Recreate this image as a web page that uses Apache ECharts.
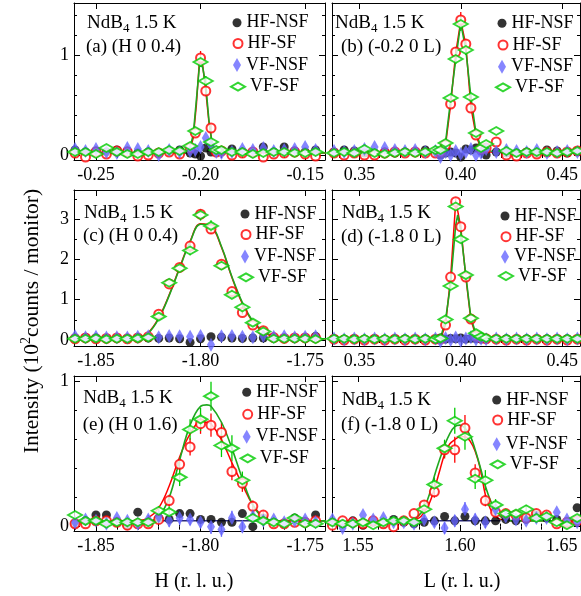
<!DOCTYPE html>
<html><head><meta charset="utf-8">
<script src="https://cdn.jsdelivr.net/npm/echarts@6/dist/echarts.min.js"></script>
<style>html,body{margin:0;padding:0;background:#fff}#c{width:581px;height:596px}</style>
</head><body><div id="c"></div>
<script>
// ---------------- DATA ----------------
// Panel (a) (H 0 0.4)
const aX = [-0.26,-0.255,-0.25,-0.245,-0.24,-0.235,-0.23,-0.225,-0.22,-0.215,-0.21,-0.205,-0.2025,-0.2,-0.1975,-0.195,-0.1925,-0.19,-0.185,-0.18,-0.175,-0.17,-0.165,-0.16,-0.155,-0.15,-0.145,-0.14];
const aHfNsf = [0.05,0.03,0.04,0.03,0.05,0.04,0.02,0.03,0.02,0.04,0.05,0.02,0.01,-0.01,0.07,0.03,0.03,0.04,0.06,0.03,0.02,0.08,0.03,0.08,0.04,0.03,0.05,0.04];
const aHfSf = [0.02,-0.02,0.03,0.01,0.04,0.03,-0.01,0.0,0.02,0.03,0.01,0.07,0.22,0.97,0.64,0.27,0.03,0.04,0.0,0.02,0.03,-0.02,0.01,0.02,0.03,0.01,-0.01,0.02];
const aVfNsf = [0.06,0.04,0.06,0.03,0.02,0.07,0.06,0.04,0.0,0.05,0.03,0.04,0.05,0.08,0.17,0.1,0.03,0.02,0.03,0.06,0.05,0.07,0.04,0.05,0.06,0.08,0.05,0.07];
const aVfSf = [0.03,0.03,0.01,0.07,0.03,0.01,0.01,0.03,0.03,0.05,0.04,0.09,0.24,0.93,0.74,0.13,0.05,0.05,0.03,0.03,0.01,0.02,0.03,0.03,0.02,0.02,0.03,0.02];
const aHfSfErr = [0,0,0,0,0,0,0,0,0,0,0,0,0.03,0.07,0.05,0.03,0,0,0,0,0,0,0,0,0,0,0,0];
const aVfSfErr = [0,0,0,0,0,0,0,0,0,0,0,0,0.03,0.05,0.05,0.02,0,0,0,0,0,0,0,0,0,0,0,0];
const aFitX = [-0.26,-0.2065,-0.205,-0.2035,-0.202,-0.2005,-0.199,-0.1975,-0.196,-0.1945,-0.193,-0.14];
const aFitHf = [0.02,0.02,0.06,0.17,0.5,0.95,0.9,0.64,0.33,0.12,0.03,0.02];
const aFitVf = [0.02,0.02,0.08,0.2,0.55,0.9,0.88,0.7,0.35,0.12,0.04,0.02];

// Panel (b) (-0.2 0 L)
const bX = [0.3375,0.3425,0.3475,0.3525,0.3575,0.3625,0.3675,0.3725,0.3775,0.3825,0.3875,0.39,0.3925,0.395,0.3975,0.4,0.4025,0.405,0.4075,0.41,0.4125,0.4175,0.4225,0.4275,0.4325,0.4375,0.4425,0.4475,0.4525,0.4575];
const bHfNsf = [0.03,0.05,0.04,0.02,0.02,0.03,0.02,0.03,0.03,0.05,0.03,0.0,0.02,0.03,0.02,-0.02,0.06,0.05,0.07,0.04,0.0,0.03,0.02,0.02,0.03,0.02,0.05,0.04,0.02,0.04];
const bHfSf = [0.02,0.0,0.02,0.0,0.0,0.02,0.03,0.02,0.03,0.02,0.02,0.03,0.1,0.51,1.03,1.35,1.11,0.47,0.2,0.06,0.07,0.13,0.0,-0.01,0.02,0.01,0.03,0.02,0.03,0.04];
const bVfNsf = [0.04,0.03,0.04,0.06,0.08,0.07,0.05,0.04,0.05,0.03,0.04,-0.02,0.03,0.0,0.04,0.01,0.03,0.06,0.0,0.02,0.06,0.03,0.05,0.04,0.03,0.05,0.02,0.03,0.04,0.03];
const bVfSf = [0.02,0.03,0.02,0.06,0.02,0.01,0.02,0.03,0.02,0.03,0.05,0.05,0.12,0.57,0.96,1.31,1.05,0.58,0.22,0.07,0.11,0.24,0.04,0.02,0.03,0.03,0.03,0.02,0.03,0.04];
const bHfSfErr = [0,0,0,0,0,0,0,0,0,0,0,0,0,0.03,0.05,0.08,0.05,0.03,0,0,0,0,0,0,0,0,0,0,0,0];
const bVfSfErr = [0,0,0,0,0,0,0,0,0,0,0,0,0,0.03,0.05,0.07,0.05,0.03,0,0,0,0,0,0,0,0,0,0,0,0];
const bFitX = [0.3375,0.39,0.3925,0.395,0.3975,0.4,0.4025,0.405,0.4075,0.41,0.4125,0.4575];
const bFitHf = [0.02,0.03,0.1,0.5,1.02,1.34,1.1,0.48,0.2,0.06,0.03,0.02];
const bFitVf = [0.02,0.04,0.13,0.55,0.95,1.32,1.05,0.58,0.22,0.08,0.04,0.03];

// Panel (c) (H 0 0.4)
const cX = [-1.86,-1.855,-1.85,-1.845,-1.84,-1.835,-1.83,-1.825,-1.82,-1.815,-1.81,-1.805,-1.8,-1.795,-1.79,-1.785,-1.78,-1.775,-1.77,-1.765,-1.76,-1.755,-1.75,-1.745,-1.74];
const cHfNsf = [0.05,0.06,0.05,0.04,0.05,0.04,0.06,0.05,0.04,0.05,0.03,-0.06,0.03,0.08,0.07,0.05,0.04,0.05,0.05,0.06,0.04,0.05,0.06,0.09,0.05];
const cHfSf = [0.03,0.05,0.03,0.04,0.05,0.03,0.05,0.08,0.64,1.39,1.80,2.33,3.12,2.75,1.88,1.20,0.68,0.37,0.23,0.06,0.04,0.05,0.05,0.05,0.04];
const cVfNsf = [0.09,0.07,0.08,0.06,0.07,0.06,0.08,0.09,0.07,0.1,0.09,0.08,0.1,-0.12,0.09,0.1,0.08,0.07,0.1,0.08,0.09,0.07,0.08,0.09,0.07];
const cVfSf = [0.03,0.03,0.04,0.02,0.03,0.03,0.04,0.06,0.58,1.42,1.78,2.22,3.10,2.83,1.84,1.12,0.81,0.43,0.21,0.03,0.03,0.03,0.03,0.02,0.03];
const cHfSfErr = [0,0,0,0,0,0,0,0,0.05,0.07,0.08,0.1,0.12,0.12,0.1,0.07,0.05,0,0,0,0,0,0,0,0];
const cVfSfErr = [0,0,0,0,0,0,0,0,0.05,0.07,0.08,0.12,0.14,0.14,0.1,0.07,0.05,0,0,0,0,0,0,0,0];
const cFitX = [-1.86,-1.835,-1.83,-1.825,-1.82,-1.815,-1.81,-1.805,-1.8,-1.795,-1.79,-1.785,-1.78,-1.775,-1.77,-1.765,-1.76,-1.74];
const cFitHf = [0.03,0.03,0.05,0.18,0.55,1.12,1.8,2.45,2.88,2.82,2.3,1.55,0.9,0.45,0.2,0.08,0.04,0.03];
const cFitVf = [0.03,0.03,0.05,0.17,0.53,1.1,1.78,2.43,2.87,2.83,2.32,1.57,0.93,0.47,0.22,0.09,0.04,0.03];

// Panel (d) (-1.8 0 L)
const dX = [0.3375,0.3425,0.3475,0.3525,0.3575,0.3625,0.3675,0.3725,0.3775,0.3825,0.3875,0.39,0.3925,0.395,0.3975,0.4,0.4025,0.405,0.4075,0.41,0.4125,0.4175,0.4225,0.4275,0.4325,0.4375,0.4425,0.4475,0.4525,0.4575];
const dHfNsf = [0.03,0.02,0.03,0.02,0.03,0.02,0.03,0.03,0.02,0.03,0.02,0.05,0.02,0.04,0.03,0.05,0.02,0.04,0.03,0.02,0.03,0.02,0.03,0.02,0.03,0.02,0.03,0.02,0.03,0.02];
const dHfSf = [0.02,0.0,0.02,0.0,0.02,0.0,0.02,0.0,0.02,0.0,0.02,0.02,0.37,1.56,3.43,2.81,1.56,0.52,0.1,0.05,0.03,0.02,0.0,0.02,0.0,0.02,0.0,0.02,0.0,0.02];
const dVfNsf = [0.04,0.02,0.04,0.02,0.04,0.02,0.04,0.02,0.04,0.02,0.04,-0.03,0.05,0.0,0.06,-0.02,0.04,0.07,0.01,0.03,0.02,0.04,0.02,0.04,0.02,0.04,0.02,0.04,0.02,0.04];
const dVfSf = [0.03,0.03,0.02,0.03,0.02,0.03,0.02,0.03,0.02,0.03,0.02,0.04,0.51,1.34,3.31,2.5,1.61,0.54,0.17,0.08,0.05,0.03,0.03,0.03,0.03,0.03,0.03,0.03,0.03,0.03];
const dHfSfErr = [0,0,0,0,0,0,0,0,0,0,0,0,0,0.05,0.08,0.07,0.05,0,0,0,0,0,0,0,0,0,0,0,0,0];
const dVfSfErr = [0,0,0,0,0,0,0,0,0,0,0,0,0,0.05,0.08,0.07,0.05,0,0,0,0,0,0,0,0,0,0,0,0,0];
const dFitX = [0.3375,0.39,0.3925,0.395,0.3975,0.3985,0.4,0.4025,0.405,0.4075,0.41,0.4575];
const dFitHf = [0.02,0.02,0.38,1.55,3.42,3.2,2.8,1.55,0.5,0.1,0.03,0.02];
const dFitVf = [0.03,0.04,0.5,1.4,2.85,3.1,2.7,1.6,0.55,0.15,0.05,0.03];

// Panel (e) (H 0 1.6)
const eX = [-1.86,-1.855,-1.85,-1.845,-1.84,-1.835,-1.83,-1.825,-1.82,-1.815,-1.81,-1.805,-1.8,-1.795,-1.79,-1.785,-1.78,-1.775,-1.77,-1.765,-1.76,-1.755,-1.75,-1.745,-1.74];
const eHfNsf = [0.02,0.04,0.08,0.08,0.03,0.01,0.10,0.03,0.06,0.05,0.09,0.09,0.05,0.05,0.03,0.03,0.09,0.0,0.06,0.03,0.02,0.06,0.03,0.08,0.05];
const eHfSf = [0.02,0.02,0.04,0.04,0.03,0.01,0.02,0.02,0.05,0.18,0.43,0.55,0.71,0.70,0.65,0.38,0.30,0.14,0.08,0.02,0.02,0.03,0.03,0.04,0.03];
const eVfNsf = [0.03,0.05,0.04,0.02,0.06,0.04,0.02,0.05,0.07,0.04,0.06,0.05,0.03,0.0,-0.02,0.06,0.0,0.07,0.04,0.05,0.03,0.04,0.05,0.03,0.04];
const eVfSf = [0.08,0.04,0.04,0.02,0.03,0.03,0.03,0.03,0.11,0.10,0.34,0.67,0.74,0.90,0.56,0.54,0.32,0.06,0.04,0.03,0.02,0.06,0.02,0.02,0.04];
const eHfSfErr = [0,0,0,0,0,0,0,0,0.02,0.04,0.05,0.06,0.07,0.08,0.07,0.06,0.06,0.04,0.03,0,0,0,0,0,0];
const eVfSfErr = [0,0,0,0,0,0,0,0,0.03,0.04,0.06,0.07,0.08,0.1,0.08,0.09,0.06,0.04,0,0,0,0,0,0,0];
const eVfNsfErr = [0,0,0,0,0,0,0,0.03,0.04,0.04,0.05,0.04,0.04,0.05,0.05,0.05,0.04,0.04,0.03,0,0,0,0,0,0];
const eFitX = [-1.86,-1.83,-1.825,-1.82,-1.815,-1.81,-1.805,-1.8,-1.797,-1.795,-1.79,-1.785,-1.78,-1.775,-1.77,-1.765,-1.74];
const eFitHf = [0.04,0.04,0.06,0.13,0.28,0.48,0.64,0.72,0.72,0.71,0.6,0.44,0.29,0.15,0.07,0.04,0.04];
const eFitVf = [0.04,0.04,0.04,0.07,0.2,0.46,0.7,0.83,0.84,0.83,0.72,0.54,0.33,0.15,0.06,0.04,0.04];
const eNsfFitX = [-1.86,-1.74];
const eNsfFit = [0.04,0.04];

// Panel (f) (-1.8 0 L)
const fX = [1.5375,1.5425,1.5475,1.5525,1.5575,1.5625,1.5675,1.5725,1.5775,1.5825,1.5875,1.5925,1.5975,1.6025,1.6075,1.6125,1.6175,1.6225,1.6275,1.6325,1.6375,1.6425,1.6475,1.6525,1.6575];
const fHfNsf = [0.03,0.02,0.04,0.01,0.03,0.02,0.05,0.03,0.02,0.03,0.04,0.07,0.04,0.07,0.04,0.04,0.04,0.05,0.04,0.05,0.08,0.06,0.05,0.02,0.13];
const fHfSf = [0.01,0.04,0.03,0.02,0.04,0.02,0.0,0.04,0.09,0.15,0.24,0.53,0.53,0.68,0.37,0.18,0.1,0.09,0.08,0.06,0.09,0.08,0.02,0.03,0.04];
const fVfNsf = [0.05,-0.01,0.02,0.08,0.05,0.06,0.03,0.03,0.02,0.05,0.03,-0.01,0.04,0.12,0.05,0.03,0.12,0.07,0.05,0.04,0.06,0.06,0.1,0.05,0.03];
const fVfSf = [0.03,0.02,0.02,0.03,0.01,0.03,0.04,0.04,0.03,0.12,0.29,0.54,0.73,0.62,0.33,0.32,0.15,0.09,0.09,0.12,0.06,0.07,0.03,0.01,0.06];
const fHfSfErr = [0,0,0,0,0,0,0,0,0,0.03,0.04,0.06,0.09,0.09,0.06,0.04,0,0,0,0,0,0,0,0,0];
const fVfSfErr = [0,0,0,0,0,0,0,0,0,0.03,0.05,0.06,0.09,0.09,0.07,0.07,0.04,0.03,0,0.03,0,0,0,0,0];
const fVfNsfErr = [0,0,0,0,0,0,0,0,0.03,0.03,0.03,0.04,0.04,0.05,0.04,0.04,0.04,0.03,0,0,0,0,0,0,0];
const fFitX = [1.5375,1.575,1.58,1.5825,1.585,1.5875,1.59,1.5925,1.595,1.5975,1.6,1.6025,1.605,1.6075,1.61,1.6125,1.615,1.6175,1.62,1.625,1.6575];
const fFitHf = [0.04,0.04,0.06,0.1,0.16,0.26,0.38,0.5,0.57,0.6,0.62,0.62,0.59,0.52,0.4,0.22,0.12,0.07,0.05,0.04,0.04];
const fFitVf = [0.04,0.04,0.08,0.13,0.22,0.35,0.46,0.56,0.64,0.69,0.70,0.68,0.63,0.53,0.41,0.28,0.18,0.11,0.07,0.04,0.04];
const fNsfFitX = [1.575,1.62];
const fNsfFit = [0.04,0.04];

// Tick labels
const hTicksA = [-0.25,-0.20,-0.15];
const lTicksBD = [0.35,0.40,0.45];
const hTicksCE = [-1.85,-1.80,-1.75];
const lTicksF = [1.55,1.60,1.65];
const yTicksRow1 = [0,1];
const yMinorRow1 = [0.2,0.4,0.6,0.8,1.2,1.4];
const yTicksRow2 = [0,1,2,3];
const yMinorRow2 = [0.5,1.5,2.5,3.5];
const yTicksRow3 = [0,1];
const yMinorRow3 = [0.2,0.4,0.6,0.8];

const panelLabels = ['(a) (H 0 0.4)','(b) (-0.2 0 L)','(c) (H 0 0.4)','(d) (-1.8 0 L)','(e) (H 0 1.6)','(f) (-1.8 0 L)'];
const seriesNames = ['HF-NSF','HF-SF','VF-NSF','VF-SF'];

// ---------------- STYLE / LAYOUT ----------------
const FONT = "'Liberation Serif','Times New Roman',serif";
const C_BLACK = '#000000', C_RED = '#ff0000', C_BLUE = '#6666ff', C_GREEN = '#00cc00', C_GREEN_LINE = '#1fa81f', C_NAVY = '#2a2a7a';
const LEG_FS = 18;

const GRIDS = [
  {left:74, top:3, width:251, height:157},
  {left:332, top:3, width:248, height:157},
  {left:74, top:190, width:251, height:156},
  {left:332, top:190, width:248, height:156},
  {left:74, top:376, width:251, height:155},
  {left:332, top:376, width:248, height:155}
];
const XR = [[-0.2605,-0.1405],[0.3365,0.4588],[-1.8605,-1.7405],[0.3365,0.4588],[-1.8605,-1.7405],[1.5373,1.6589]];
const YR = [[-0.05,1.52],[-0.05,1.52],[-0.149,3.72],[-0.149,3.72],[-0.03,1.039],[-0.03,1.039]];

function zip(xs, ys){ return xs.map((x,i)=>[x, ys[i]]); }
function minorTicks(lo, hi, step, majors){
  const out = [];
  const start = Math.ceil(lo/step - 1e-9);
  for (let k = start; k*step <= hi + 1e-9; k++){
    const v = +(k*step).toFixed(6);
    if (!majors.some(m => Math.abs(m - v) < 1e-7)) out.push(v);
  }
  return out;
}

const panels = [
  {x:aX, hn:aHfNsf, hs:aHfSf, vn:aVfNsf, vs:aVfSf, hsE:aHfSfErr, vsE:aVfSfErr, fx:aFitX, fh:aFitHf, fv:aFitVf, smooth:false, xt:hTicksA, yt:yTicksRow1, ym:yMinorRow1, yl:true},
  {x:bX, hn:bHfNsf, hs:bHfSf, vn:bVfNsf, vs:bVfSf, hsE:bHfSfErr, vsE:bVfSfErr, fx:bFitX, fh:bFitHf, fv:bFitVf, smooth:false, xt:lTicksBD, yt:yTicksRow1, ym:yMinorRow1, yl:false},
  {x:cX, hn:cHfNsf, hs:cHfSf, vn:cVfNsf, vs:cVfSf, hsE:cHfSfErr, vsE:cVfSfErr, fx:cFitX, fh:cFitHf, fv:cFitVf, smooth:0.4, xt:hTicksCE, yt:yTicksRow2, ym:yMinorRow2, yl:true},
  {x:dX, hn:dHfNsf, hs:dHfSf, vn:dVfNsf, vs:dVfSf, hsE:dHfSfErr, vsE:dVfSfErr, fx:dFitX, fh:dFitHf, fv:dFitVf, smooth:false, xt:lTicksBD, yt:yTicksRow2, ym:yMinorRow2, yl:false},
  {x:eX, hn:eHfNsf, hs:eHfSf, vn:eVfNsf, vs:eVfSf, hsE:eHfSfErr, vsE:eVfSfErr, vnE:eVfNsfErr, fx:eFitX, fh:eFitHf, fv:eFitVf, nx:eNsfFitX, ny:eNsfFit, smooth:0.4, xt:hTicksCE, yt:yTicksRow3, ym:yMinorRow3, yl:true},
  {x:fX, hn:fHfNsf, hs:fHfSf, vn:fVfNsf, vs:fVfSf, hsE:fHfSfErr, vsE:fVfSfErr, vnE:fVfNsfErr, fx:fFitX, fh:fFitHf, fv:fFitVf, nx:fNsfFitX, ny:fNsfFit, smooth:0.4, xt:lTicksF, yt:yTicksRow3, ym:yMinorRow3, yl:false}
];

// legend layout: icon centre x, text start x, row centres
const LEG = [
  {cx:237, tx:252, rows:[22.7,43.5,65,86.7]},
  {cx:502, tx:515, rows:[23.3,45,66.7,87.3]},
  {cx:245, tx:256, rows:[214,234.5,256.5,277.3]},
  {cx:505, tx:517, rows:[216,236.7,256.7,276]},
  {cx:246.7, tx:258, rows:[392.3,414.3,436.7,458.3]},
  {cx:496.7, tx:508, rows:[400,420,444.3,464.3]}
];
const LEG_ITEMS = [
  {icon:'circle', w:9, h:9},
  {icon:'emptyCircle', w:9, h:9},
  {icon:'diamond', w:8, h:14},
  {icon:'emptyDiamond', w:14, h:8}
];
const LABPOS = [
  [[87,23.3],[86,46.7]],
  [[335,22.7],[341,46.7]],
  [[84,212.7],[83,236]],
  [[341.7,213.3],[341,236.7]],
  [[83.3,398.3],[82.7,425]],
  [[341.7,400],[341,425]]
];

const xAxis = [], yAxis = [], series = [], legend = [], title = [];
const tickLine = {color:'#000', width:1};

panels.forEach((p, gi) => {
  const xr = XR[gi], yr = YR[gi];
  const xMinor = minorTicks(xr[0], xr[1], 0.01, p.xt);
  const xb = {type:'value', gridIndex:gi, min:xr[0], max:xr[1], splitLine:{show:false}};
  xAxis.push(
    {...xb, position:'bottom', axisLine:{show:true,onZero:false,lineStyle:tickLine},
      axisTick:{show:true,inside:true,length:6,customValues:p.xt,lineStyle:tickLine},
      axisLabel:{show:true,customValues:p.xt,formatter:v=>Number(v).toFixed(2),fontFamily:FONT,fontSize:18,color:'#000',margin:6}},
    {...xb, position:'bottom', axisLine:{show:false}, axisTick:{show:true,inside:true,length:3,customValues:xMinor,lineStyle:tickLine}, axisLabel:{show:false}},
    {...xb, position:'top', axisLine:{show:true,onZero:false,lineStyle:tickLine}, axisTick:{show:true,inside:true,length:6,customValues:p.xt,lineStyle:tickLine}, axisLabel:{show:false}},
    {...xb, position:'top', axisLine:{show:false}, axisTick:{show:true,inside:true,length:3,customValues:xMinor,lineStyle:tickLine}, axisLabel:{show:false}}
  );
  const yb = {type:'value', gridIndex:gi, min:yr[0], max:yr[1], splitLine:{show:false}};
  yAxis.push(
    {...yb, position:'left', axisLine:{show:true,onZero:false,lineStyle:tickLine},
      axisTick:{show:true,inside:true,length:6,customValues:p.yt,lineStyle:tickLine},
      axisLabel: p.yl ? {show:true,customValues:p.yt,formatter:v=>String(Math.round(v)),fontFamily:FONT,fontSize:18,color:'#000',margin:5} : {show:false}},
    {...yb, position:'left', axisLine:{show:false}, axisTick:{show:true,inside:true,length:3,customValues:p.ym,lineStyle:tickLine}, axisLabel:{show:false}},
    {...yb, position:'right', axisLine:{show:true,onZero:false,lineStyle:tickLine}, axisTick:{show:true,inside:true,length:6,customValues:p.yt,lineStyle:tickLine}, axisLabel:{show:false}},
    {...yb, position:'right', axisLine:{show:false}, axisTick:{show:true,inside:true,length:3,customValues:p.ym,lineStyle:tickLine}, axisLabel:{show:false}}
  );
  const ax = {xAxisIndex: gi*4, yAxisIndex: gi*4};

  // fit lines
  if (p.nx) {
    series.push({type:'line', ...ax, data:zip(p.nx, p.ny), symbol:'none', silent:true, z:1,
      lineStyle:{color:C_NAVY, width:1.5}});
  }
  series.push({type:'line', ...ax, data:zip(p.fx, p.fh), symbol:'none', smooth:p.smooth, silent:true, z:2,
    lineStyle:{color:C_RED, width:1.5}});
  series.push({type:'line', ...ax, data:zip(p.fx, p.fv), symbol:'none', smooth:p.smooth, silent:true, z:2,
    lineStyle:{color:C_GREEN_LINE, width:1.6}});

  // error bars
  const errSeries = (ys, es, color) => ({
    type:'custom', ...ax, silent:true, z:2,
    data: p.x.map((x,i)=>[x, ys[i], es[i]]).filter(d => d[2] > 0),
    renderItem: (params, api) => {
      const x = api.value(0), y = api.value(1), e = api.value(2);
      const a = api.coord([x, y - e]), b = api.coord([x, y + e]);
      return {type:'line', shape:{x1:a[0], y1:a[1], x2:b[0], y2:b[1]}, style:{stroke:color, lineWidth:1.3}};
    }
  });
  if (p.vnE) series.push(errSeries(p.vn, p.vnE, C_BLUE));
  series.push(errSeries(p.hs, p.hsE, C_RED));
  series.push(errSeries(p.vs, p.vsE, C_GREEN));

  // markers
  series.push({type:'scatter', name:'HF-NSF', ...ax, data:zip(p.x, p.hn), symbol:'circle', symbolSize:9, z:3,
    itemStyle:{color:C_BLACK}});
  series.push({type:'scatter', name:'HF-SF', ...ax, data:zip(p.x, p.hs), symbol:'emptyCircle', symbolSize:9, z:4,
    itemStyle:{color:C_RED, borderColor:C_RED, borderWidth:1.8}});
  series.push({type:'scatter', name:'VF-NSF', ...ax, data:zip(p.x, p.vn), symbol:'diamond', symbolSize:[8,14], z:5,
    itemStyle:{color:C_BLUE}});
  series.push({type:'scatter', name:'VF-SF', ...ax, data:zip(p.x, p.vs), symbol:'emptyDiamond', symbolSize:[14,8], z:6,
    itemStyle:{color:C_GREEN, borderColor:C_GREEN, borderWidth:2}});

  // legends (one per item for exact icon sizes)
  const L = LEG[gi];
  seriesNames.forEach((nm, k) => {
    const it = LEG_ITEMS[k];
    const ts = {fontFamily:FONT, fontSize:LEG_FS, color:'#000', lineHeight:20};
    legend.push({
      show:true, orient:'vertical', padding:0, left:L.cx - it.w/2, top:L.rows[k] - 10,
      itemWidth:it.w, itemHeight:it.h, symbolKeepAspect:false, selectedMode:false,
      data:[{name:nm, icon:it.icon, textStyle:ts}],
      textStyle:ts
    });
    // spacer so that text starts at the measured x
  });

  // panel labels
  const lp = LABPOS[gi];
  const tStyle = {fontFamily:FONT, fontSize:19, fontWeight:'normal', color:'#000', lineHeight:24,
    rich:{s:{fontFamily:FONT, fontSize:13, lineHeight:12, verticalAlign:'bottom', color:'#000'}}};
  title.push({text:'NdB{s|4} 1.5 K', left:lp[0][0], top:lp[0][1]-12, padding:0, textStyle:tStyle});
  title.push({text:panelLabels[gi], left:lp[1][0], top:lp[1][1]-12, padding:0, textStyle:tStyle});
});

const option = {
  animation:false,
  backgroundColor:'#ffffff',
  grid: GRIDS.map(g => ({...g, containLabel:false})),
  xAxis, yAxis, series, legend, title,
  graphic: [
    {type:'text', x:32, y:321, rotation:Math.PI/2,
      style:{text:'Intensity (10{p|2}counts / monitor)', align:'center', verticalAlign:'middle',
        fontFamily:FONT, fontSize:21.5, fill:'#000', lineHeight:26,
        rich:{p:{fontFamily:FONT, fontSize:14, lineHeight:13, verticalAlign:'top', fill:'#000'}}}},
    {type:'text', x:194, y:582, style:{text:'H (r. l. u.)', align:'center', verticalAlign:'middle', fontFamily:FONT, fontSize:20, fill:'#000'}},
    {type:'text', x:462, y:582, style:{text:'L (r. l. u.)', align:'center', verticalAlign:'middle', fontFamily:FONT, fontSize:20, fill:'#000'}}
  ]
};

const chart = echarts.init(document.getElementById('c'), null, {renderer:'canvas'});
chart.setOption(option);
</script>
</body></html>
